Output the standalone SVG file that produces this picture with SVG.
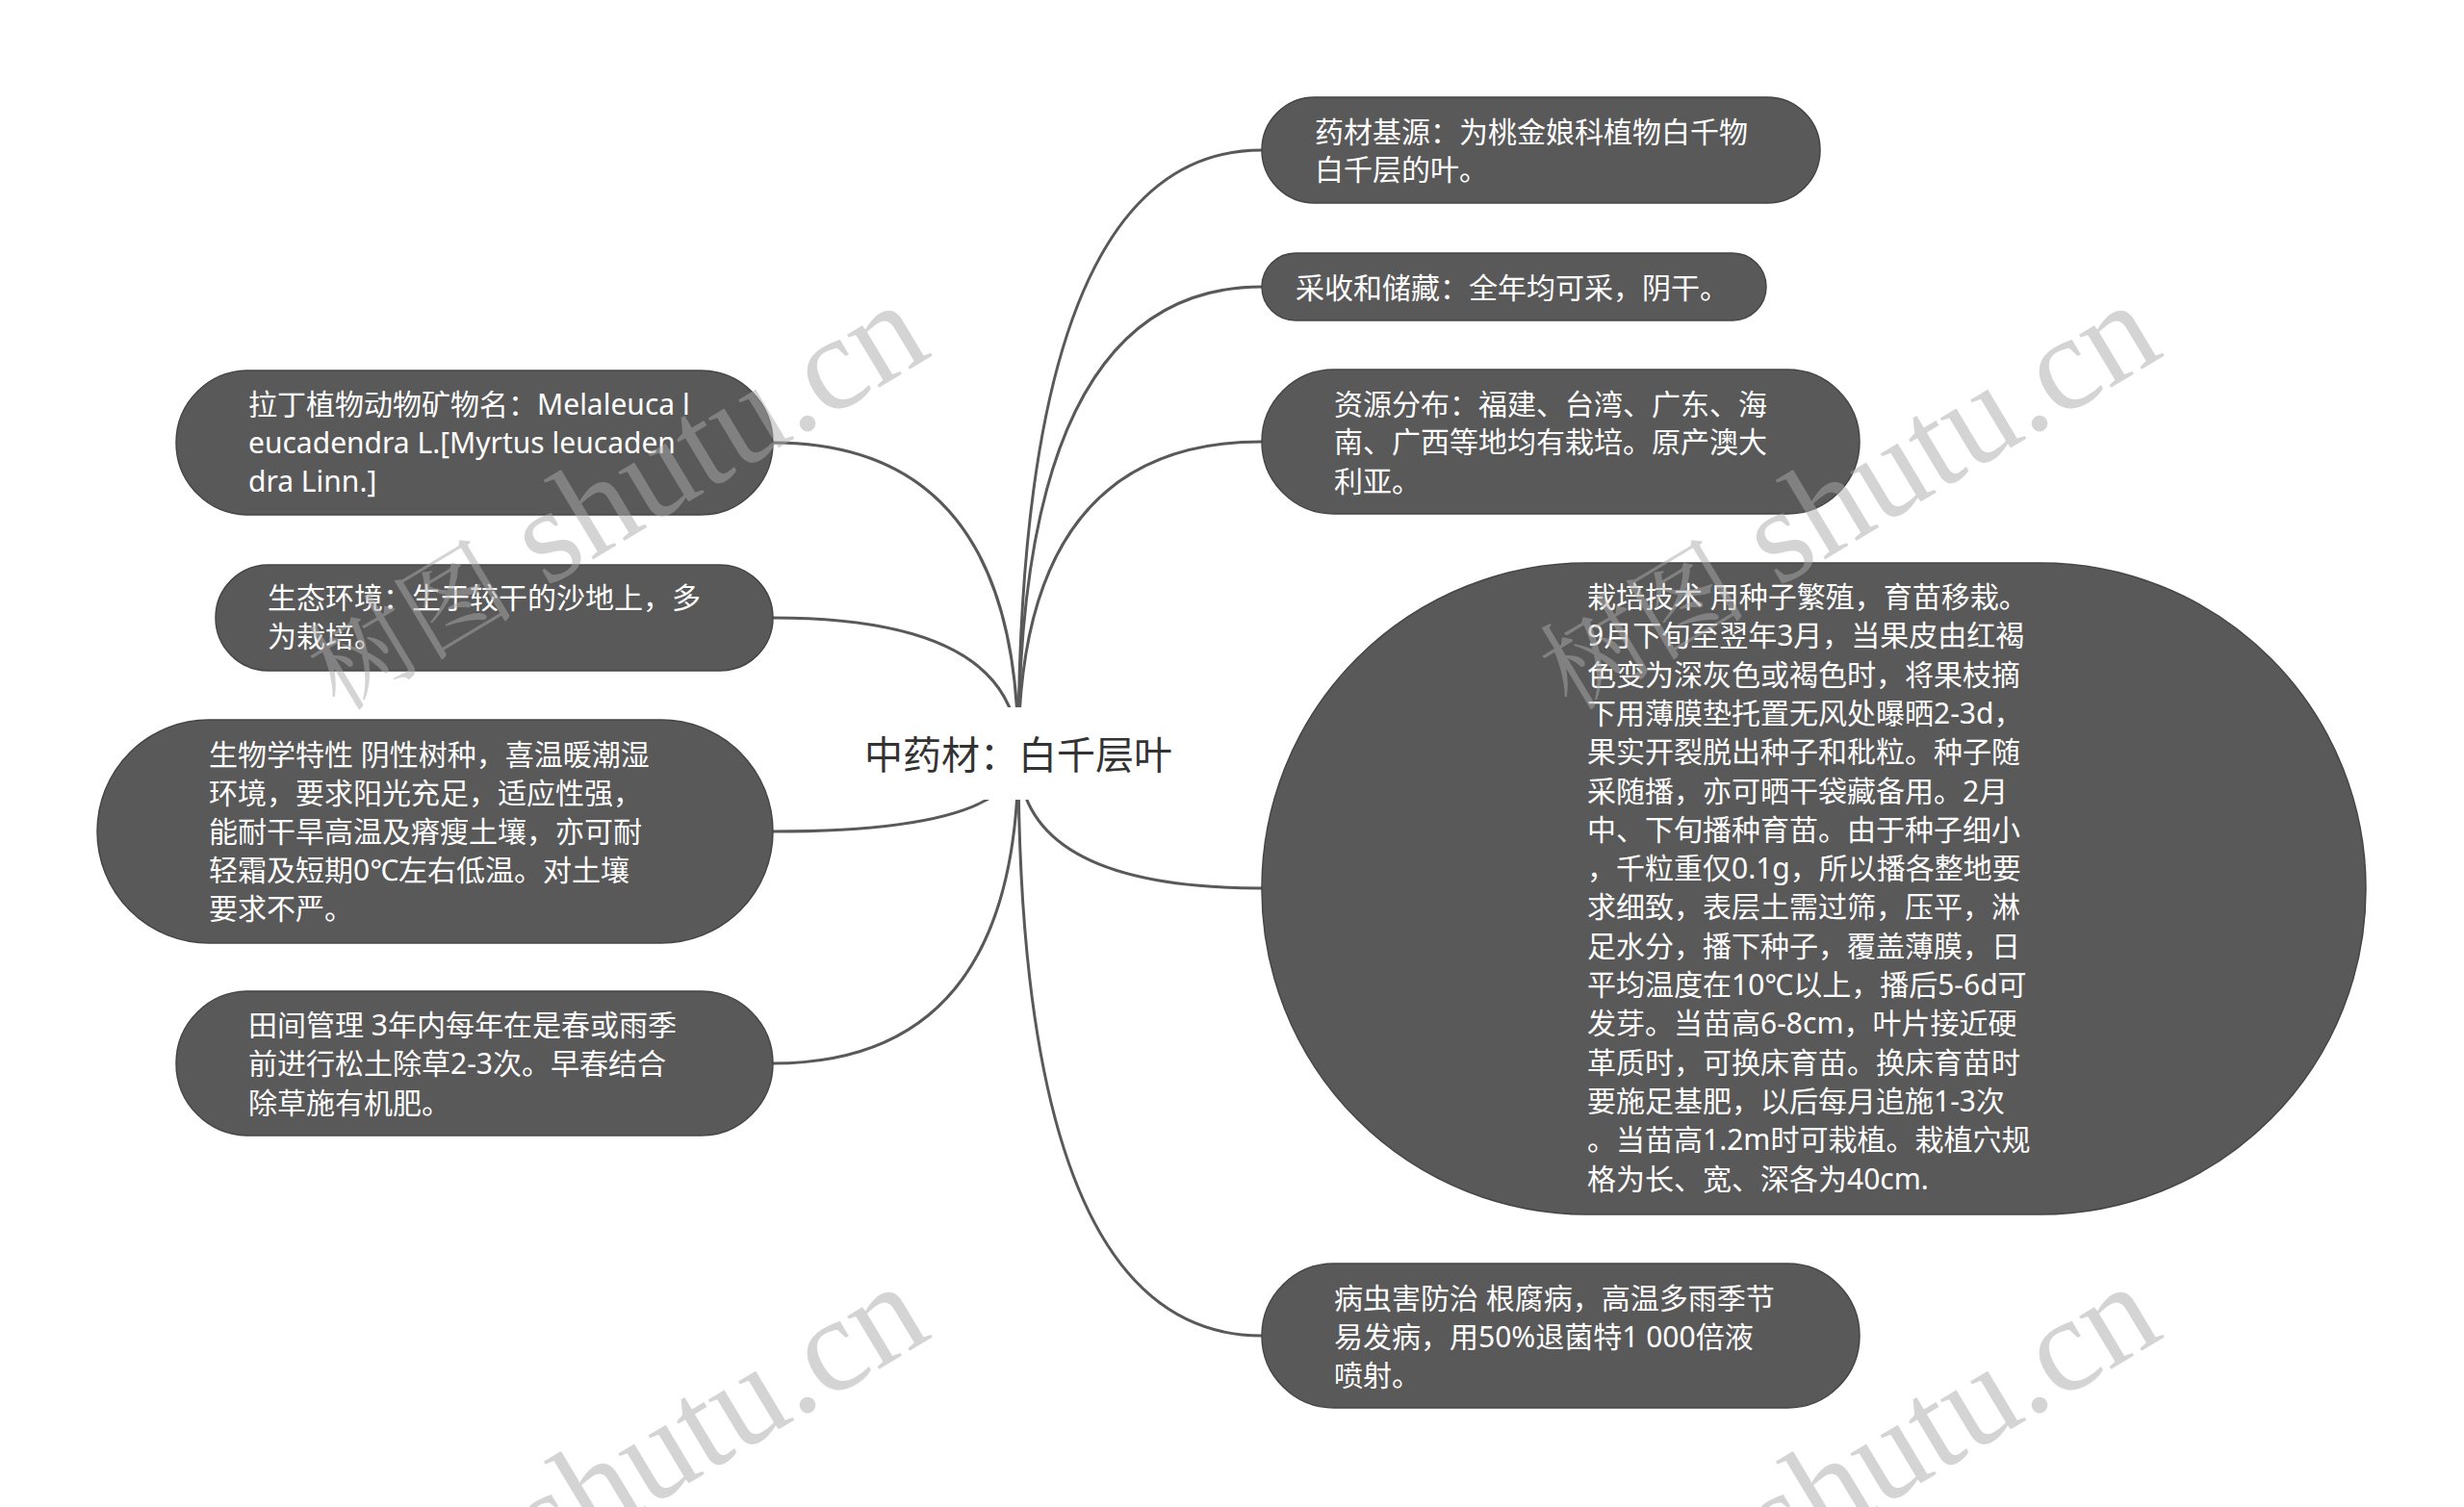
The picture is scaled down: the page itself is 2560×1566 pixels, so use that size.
<svg xmlns="http://www.w3.org/2000/svg" width="2560" height="1566" viewBox="0 0 2560 1566">
<defs>
<style>
.node rect{fill:#595959;stroke:#454545;stroke-width:1.5}
.node text{fill:#ffffff;font-family:"Noto Sans","Noto Sans CJK SC",sans-serif;font-size:30px}
.conn path{fill:none;stroke:#595959;stroke-width:3}
.root text{fill:#333333;font-family:"Noto Sans CJK SC",sans-serif;font-size:40px}
.wm{fill:#aaaaaa;fill-opacity:0.5;font-family:"Liberation Serif","Noto Serif CJK SC","Noto Sans CJK SC",serif;font-size:140px}
.wm .cj{font-size:108px}
</style>
</defs>
<rect x="0" y="0" width="2560" height="1566" fill="#ffffff"/>
<g id="connectors" class="conn">
<path d="M1058,784 Q1058,156 1311,156"/>
<path d="M1058,784 Q1058,298 1311,298"/>
<path d="M1058,784 Q1058,459 1311,459"/>
<path d="M1058,784 Q1058,923 1311,923"/>
<path d="M1058,784 Q1058,1388 1311,1388"/>
<path d="M1058,784 Q1058,460 803,460"/>
<path d="M1058,784 Q1058,642 803,642"/>
<path d="M1058,784 Q1058,864 803,864"/>
<path d="M1058,784 Q1058,1105 803,1105"/>
</g>
<g id="root" class="root">
<rect x="870" y="735" width="376" height="96" fill="#ffffff"/>
<text x="1058" y="799" text-anchor="middle">中药材：白千层叶</text>
</g>
<g id="n1" class="node">
<rect x="1311" y="101" width="580" height="110" rx="55" ry="55"/>
<text x="1366"><tspan x="1366" y="148">药材基源：为桃金娘科植物白千物</tspan><tspan x="1366" y="187">白千层的叶。</tspan></text>
</g>
<g id="n2" class="node">
<rect x="1311" y="263" width="524" height="70" rx="35" ry="35"/>
<text x="1346" y="310">采收和储藏：全年均可采，阴干。</text>
</g>
<g id="n3" class="node">
<rect x="1311" y="384" width="621" height="150" rx="75" ry="75"/>
<text><tspan x="1386" y="431">资源分布：福建、台湾、广东、海</tspan><tspan x="1386" y="470">南、广西等地均有栽培。原产澳大</tspan><tspan x="1386" y="511">利亚。</tspan></text>
</g>
<g id="n4" class="node">
<rect x="1311" y="585" width="1147" height="677" rx="338" ry="338"/>
<text>
<tspan x="1649" y="631">栽培技术 用种子繁殖，育苗移栽。</tspan>
<tspan x="1649" y="671">9月下旬至翌年3月，当果皮由红褐</tspan>
<tspan x="1649" y="712">色变为深灰色或褐色时，将果枝摘</tspan>
<tspan x="1649" y="752">下用薄膜垫托置无风处曝晒2-3d，</tspan>
<tspan x="1649" y="792">果实开裂脱出种子和秕粒。种子随</tspan>
<tspan x="1649" y="833">采随播，亦可晒干袋藏备用。2月</tspan>
<tspan x="1649" y="873">中、下旬播种育苗。由于种子细小</tspan>
<tspan x="1649" y="913">，千粒重仅0.1g，所以播各整地要</tspan>
<tspan x="1649" y="953">求细致，表层土需过筛，压平，淋</tspan>
<tspan x="1649" y="994">足水分，播下种子，覆盖薄膜，日</tspan>
<tspan x="1649" y="1034">平均温度在10℃以上，播后5-6d可</tspan>
<tspan x="1649" y="1074">发芽。当苗高6-8cm，叶片接近硬</tspan>
<tspan x="1649" y="1115">革质时，可换床育苗。换床育苗时</tspan>
<tspan x="1649" y="1155">要施足基肥，以后每月追施1-3次</tspan>
<tspan x="1649" y="1195">。当苗高1.2m时可栽植。栽植穴规</tspan>
<tspan x="1649" y="1236">格为长、宽、深各为40cm.</tspan>
</text>
</g>
<g id="n5" class="node">
<rect x="1311" y="1313" width="621" height="150" rx="75" ry="75"/>
<text><tspan x="1386" y="1360">病虫害防治 根腐病，高温多雨季节</tspan><tspan x="1386" y="1400">易发病，用50%退菌特1 000倍液</tspan><tspan x="1386" y="1440">喷射。</tspan></text>
</g>
<g id="n6" class="node">
<rect x="183" y="385" width="620" height="150" rx="75" ry="75"/>
<text><tspan x="258" y="431">拉丁植物动物矿物名：Melaleuca l</tspan><tspan x="258" y="471">eucadendra L.[Myrtus leucaden</tspan><tspan x="258" y="511">dra Linn.]</tspan></text>
</g>
<g id="n7" class="node">
<rect x="224" y="587" width="579" height="110" rx="55" ry="55"/>
<text><tspan x="278" y="632">生态环境：生于较干的沙地上，多</tspan><tspan x="278" y="672">为栽培。</tspan></text>
</g>
<g id="n8" class="node">
<rect x="101" y="748" width="702" height="232" rx="116" ry="116"/>
<text><tspan x="217" y="795">生物学特性 阴性树种，喜温暖潮湿</tspan><tspan x="217" y="835">环境，要求阳光充足，适应性强，</tspan><tspan x="217" y="875">能耐干旱高温及瘠瘦土壤，亦可耐</tspan><tspan x="217" y="915">轻霜及短期0℃左右低温。对土壤</tspan><tspan x="217" y="955">要求不严。</tspan></text>
</g>
<g id="n9" class="node">
<rect x="183" y="1030" width="620" height="150" rx="75" ry="75"/>
<text><tspan x="258" y="1076">田间管理 3年内每年在是春或雨季</tspan><tspan x="258" y="1116">前进行松土除草2-3次。早春结合</tspan><tspan x="258" y="1157">除草施有机肥。</tspan></text>
</g>
<g id="watermarks">
<text class="wm" transform="translate(352,740) rotate(-31)"><tspan class="cj">树图</tspan> shutu.cn</text>
<text class="wm" transform="translate(1632,740) rotate(-31)"><tspan class="cj">树图</tspan> shutu.cn</text>
<text class="wm" transform="translate(352,1760) rotate(-31)"><tspan class="cj">树图</tspan> shutu.cn</text>
<text class="wm" transform="translate(1632,1760) rotate(-31)"><tspan class="cj">树图</tspan> shutu.cn</text>
</g>
</svg>
